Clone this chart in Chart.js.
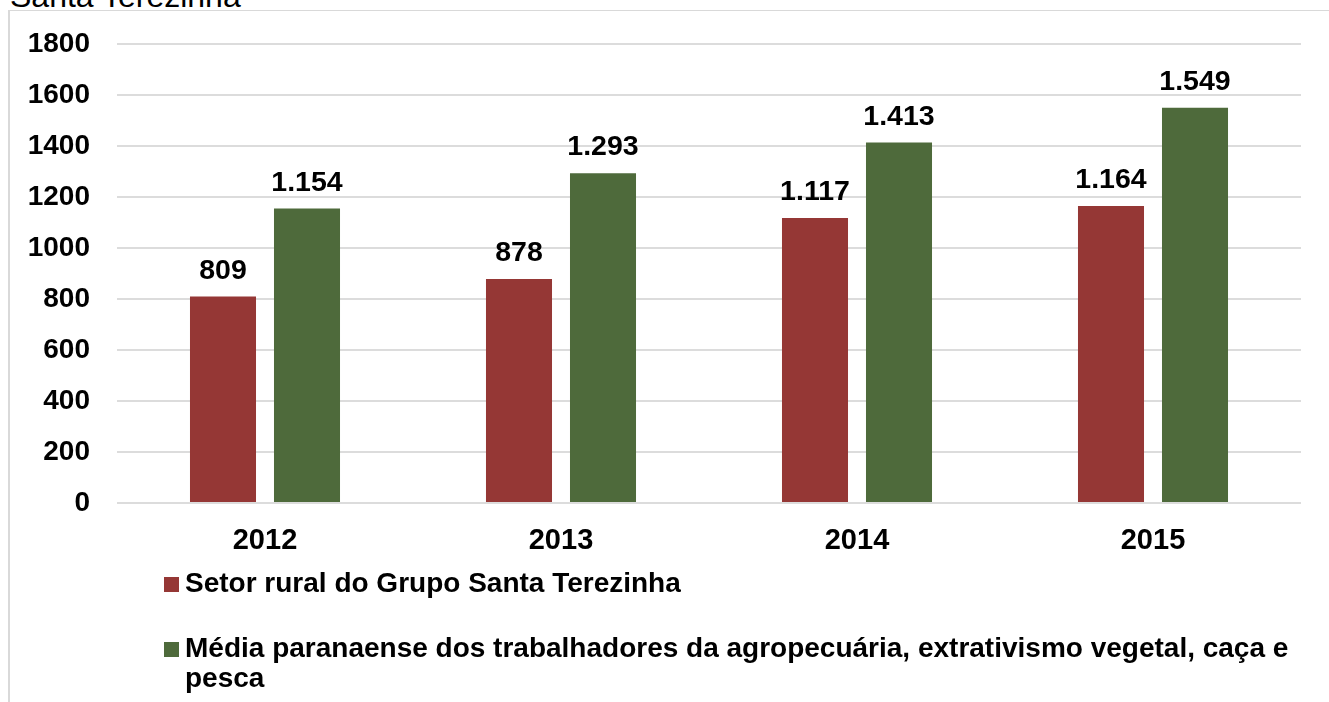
<!DOCTYPE html>
<html>
<head>
<meta charset="utf-8">
<script src="https://cdn.jsdelivr.net/npm/chart.js@4.4.1/dist/chart.umd.min.js"></script>
<style>
  html, body { margin: 0; padding: 0; background: #fff; }
  body { width: 1329px; height: 702px; position: relative; overflow: hidden;
         font-family: "Liberation Sans", Arial, sans-serif; }
  #caption { position: absolute; left: 10px; top: -22px; font-size: 32px; color: #000; white-space: nowrap; }
  #frame { position: absolute; left: 8px; top: 10px; right: -4px; bottom: -4px;
           border-top: 1.5px solid #d9d9d9; border-left: 2px solid #d9d9d9; }
  #wrap { position: absolute; left: 0; top: 0; width: 1329px; height: 702px; }
  #legend { position: absolute; left: 164px; top: 568px; width: 1150px;
            font-weight: bold; font-size: 28px; line-height: 30px; color: #000; }
  .item { display: flex; align-items: flex-start; }
  .item + .item { margin-top: 35px; }
  .box { width: 15px; height: 15px; margin-top: 9px; margin-right: 6px; flex: none; }
</style>
</head>
<body>
<div id="caption">Santa Terezinha</div>
<div id="frame"></div>
<div id="wrap"><canvas id="chart" width="1329" height="702"></canvas></div>
<div id="legend"></div>
<script>
// anos e salários médios (R$)
const anos = ["2012", "2013", "2014", "2015"];
const setorRural = [809, 878, 1117, 1164];
const mediaParana = [1154, 1293, 1413, 1549];
const nomesSeries = [
  "Setor rural do Grupo Santa Terezinha",
  "Média paranaense dos trabalhadores da agropecuária, extrativismo vegetal, caça e pesca"
];
const coresSeries = ["#953735", "#4e6a3b"];

const FONT = "'Liberation Sans', Arial, sans-serif";

// formato pt-BR com ponto de milhar
const fmt = v => String(v).replace(/\B(?=(\d{3})+(?!\d))/g, ".");

// rótulos de valor em cima das barras
const rotulos = {
  id: "rotulos",
  afterDatasetsDraw(chart) {
    const ctx = chart.ctx;
    ctx.save();
    ctx.font = "bold 28.5px " + FONT;
    ctx.fillStyle = "#000";
    ctx.textAlign = "center";
    ctx.textBaseline = "alphabetic";
    chart.data.datasets.forEach((ds, i) => {
      chart.getDatasetMeta(i).data.forEach((bar, j) => {
        ctx.fillText(fmt(ds.data[j]), bar.x, bar.y - 18);
      });
    });
    ctx.restore();
  }
};

const chart = new Chart(document.getElementById("chart"), {
  type: "bar",
  data: {
    labels: anos,
    datasets: [
      { label: nomesSeries[0], data: setorRural, backgroundColor: coresSeries[0] },
      { label: nomesSeries[1], data: mediaParana, backgroundColor: coresSeries[1] },
    ]
  },
  options: {
    responsive: false,
    animation: false,
    devicePixelRatio: 1,
    categoryPercentage: 0.5676,
    barPercentage: 0.786,
    layout: { padding: { left: 0, right: 28, top: 39, bottom: 139 } },
    plugins: { legend: { display: false }, tooltip: { enabled: false } },
    scales: {
      x: {
        grid: { display: false },
        border: { display: false },
        ticks: { color: "#000", font: { family: FONT, size: 29, weight: "bold" }, padding: 13 },
        afterFit: s => { s.height = 60; }
      },
      y: {
        min: 0, max: 1800,
        grid: { color: "#dcdcdc", lineWidth: 2, drawTicks: false },
        border: { display: false },
        ticks: {
          stepSize: 200, color: "#000", padding: 27,
          font: { family: FONT, size: 28, weight: "bold" },
          callback: v => String(v)
        },
        afterFit: s => { s.width = 117; }
      }
    }
  },
  plugins: [rotulos]
});

// legenda em HTML (o texto longo quebra em duas linhas)
document.getElementById("legend").innerHTML = chart.data.datasets.map(ds =>
  `<div class="item"><span class="box" style="background:${ds.backgroundColor}"></span><span>${ds.label}</span></div>`
).join("");
</script>
</body>
</html>
